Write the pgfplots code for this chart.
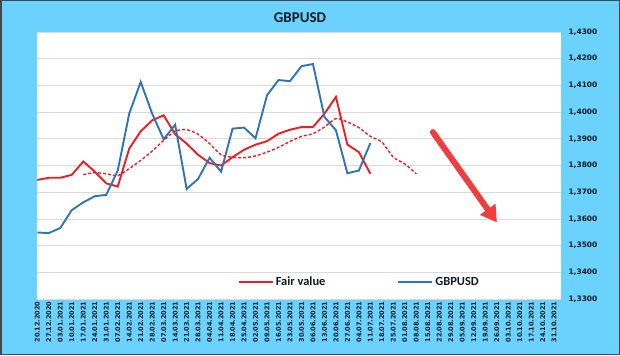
\documentclass[border=0pt]{standalone}
\usepackage{fontspec}
\setmainfont{DejaVu Sans}
\newfontfamily\carlito{Carlito}
\usepackage{pgfplots}
\pgfplotsset{compat=1.18}
\usetikzlibrary{arrows.meta}
\definecolor{bgblue}{RGB}{106,210,252}
\definecolor{fvred}{RGB}{235,30,36}
\definecolor{gbblue}{RGB}{46,117,182}
\definecolor{arrred}{RGB}{240,62,62}
\definecolor{txt}{RGB}{20,25,35}
\begin{document}
\begin{tikzpicture}[x=1bp,y=1bp]
\useasboundingbox (0,0) rectangle (620,355);
\fill[bgblue] (0,0) rectangle (620,355);
\draw[line width=1.5bp,color=txt!80] (0.75,0.75) rectangle (619.25,354.25);
\node[font=\carlito\bfseries\fontsize{15}{17}\selectfont,text=txt] at (300,337) {GBPUSD};
\begin{axis}[
  at={(37bp,56bp)}, anchor=south west,
  scale only axis, width=524bp, height=267bp,
  xmin=-0.03, xmax=45.6, ymin=1.33, ymax=1.43,
  axis background/.style={fill=white},
  axis line style={draw=none},
  major tick length=0pt,
  ytick={1.33,1.34,...,1.435},
  yticklabel pos=right,
  ymajorgrids, grid style={color=black!15, line width=0.8bp},
  yticklabel={\pgfmathprintnumber[fixed, fixed zerofill, precision=4, use comma, assume math mode=true]{\tick}},
  y tick label style={font=\bfseries\fontsize{7.5}{8}\selectfont, text=txt, xshift=4bp},
  xtick={0,...,45},
  xticklabels={20.12.2020,27.12.2020,03.01.2021,10.01.2021,17.01.2021,24.01.2021,31.01.2021,07.02.2021,14.02.2021,21.02.2021,28.02.2021,07.03.2021,14.03.2021,21.03.2021,28.03.2021,04.04.2021,11.04.2021,18.04.2021,25.04.2021,02.05.2021,09.05.2021,16.05.2021,23.05.2021,30.05.2021,06.06.2021,13.06.2021,20.06.2021,27.06.2021,04.07.2021,11.07.2021,18.07.2021,25.07.2021,01.08.2021,08.08.2021,15.08.2021,22.08.2021,29.08.2021,05.09.2021,12.09.2021,19.09.2021,26.09.2021,03.10.2021,10.10.2021,17.10.2021,24.10.2021,31.10.2021},
  x tick label style={font=\bfseries\fontsize{6.5}{7}\selectfont, text=txt, rotate=90, anchor=east, xshift=1bp},
  legend columns=2,
  legend style={at={(0.383,0.064)}, anchor=west, draw=none, fill=none, inner sep=0pt,
    font=\carlito\bfseries\fontsize{12.5}{14}\selectfont, text=txt,
    /tikz/every even column/.append style={column sep=70bp}},
  legend image code/.code={\draw[#1] (0bp,0bp) -- (34bp,0bp);},
  clip=false,
]
\addplot[fvred, line width=1.9bp] coordinates {
(0,1.3746) (1,1.3754) (2,1.3754) (3,1.3765) (4,1.3815) (5,1.3777) (6,1.3733) (7,1.3721)
(8,1.3863) (9,1.3928) (10,1.3969) (11,1.3988) (12,1.3917) (13,1.3882) (14,1.3840) (15,1.3809)
(16,1.3800) (17,1.3831) (18,1.3859) (19,1.3878) (20,1.3891) (21,1.3919) (22,1.3934) (23,1.3944)
(24,1.3944) (25,1.3994) (26,1.4057) (27,1.3878) (28,1.3850) (29,1.3769)};
\addlegendentry{Fair value}
\addplot[gbblue, line width=1.9bp] coordinates {
(0,1.3549) (1,1.3547) (2,1.3566) (3,1.3633) (4,1.3662) (5,1.3685) (6,1.3690) (7,1.3781)
(8,1.3994) (9,1.4113) (10,1.3994) (11,1.3898) (12,1.3953) (13,1.3712) (14,1.3750) (15,1.3829)
(16,1.3777) (17,1.3938) (18,1.3942) (19,1.3902) (20,1.4063) (21,1.4120) (22,1.4116) (23,1.4172)
(24,1.4180) (25,1.3982) (26,1.3932) (27,1.3771) (28,1.3781) (29,1.3884)};
\addlegendentry{GBPUSD}
\addplot[fvred, line width=1.4bp, dash pattern=on 3bp off 2bp, smooth, tension=0.4, forget plot] coordinates {
(4,1.3766) (5,1.3773) (6,1.3769) (7,1.3762) (8,1.3788) (9,1.3819) (10,1.3854) (11,1.3894)
(12,1.3929) (13,1.3934) (14,1.3917) (15,1.3882) (16,1.3840) (17,1.3831) (18,1.3829) (19,1.3836)
(20,1.3850) (21,1.3868) (22,1.3890) (23,1.3909) (24,1.3919) (25,1.3944) (26,1.3976) (27,1.3963)
(28,1.3942) (29,1.3909) (30,1.3888) (31,1.3831) (32,1.3806) (33,1.3769)};
\draw[arrred, line width=6bp, line cap=round, -{Triangle[width=18bp,length=16bp]}] (axis cs:34.44,1.3925) -- (axis cs:40.02,1.3587);
\end{axis}
\end{tikzpicture}
\end{document}
